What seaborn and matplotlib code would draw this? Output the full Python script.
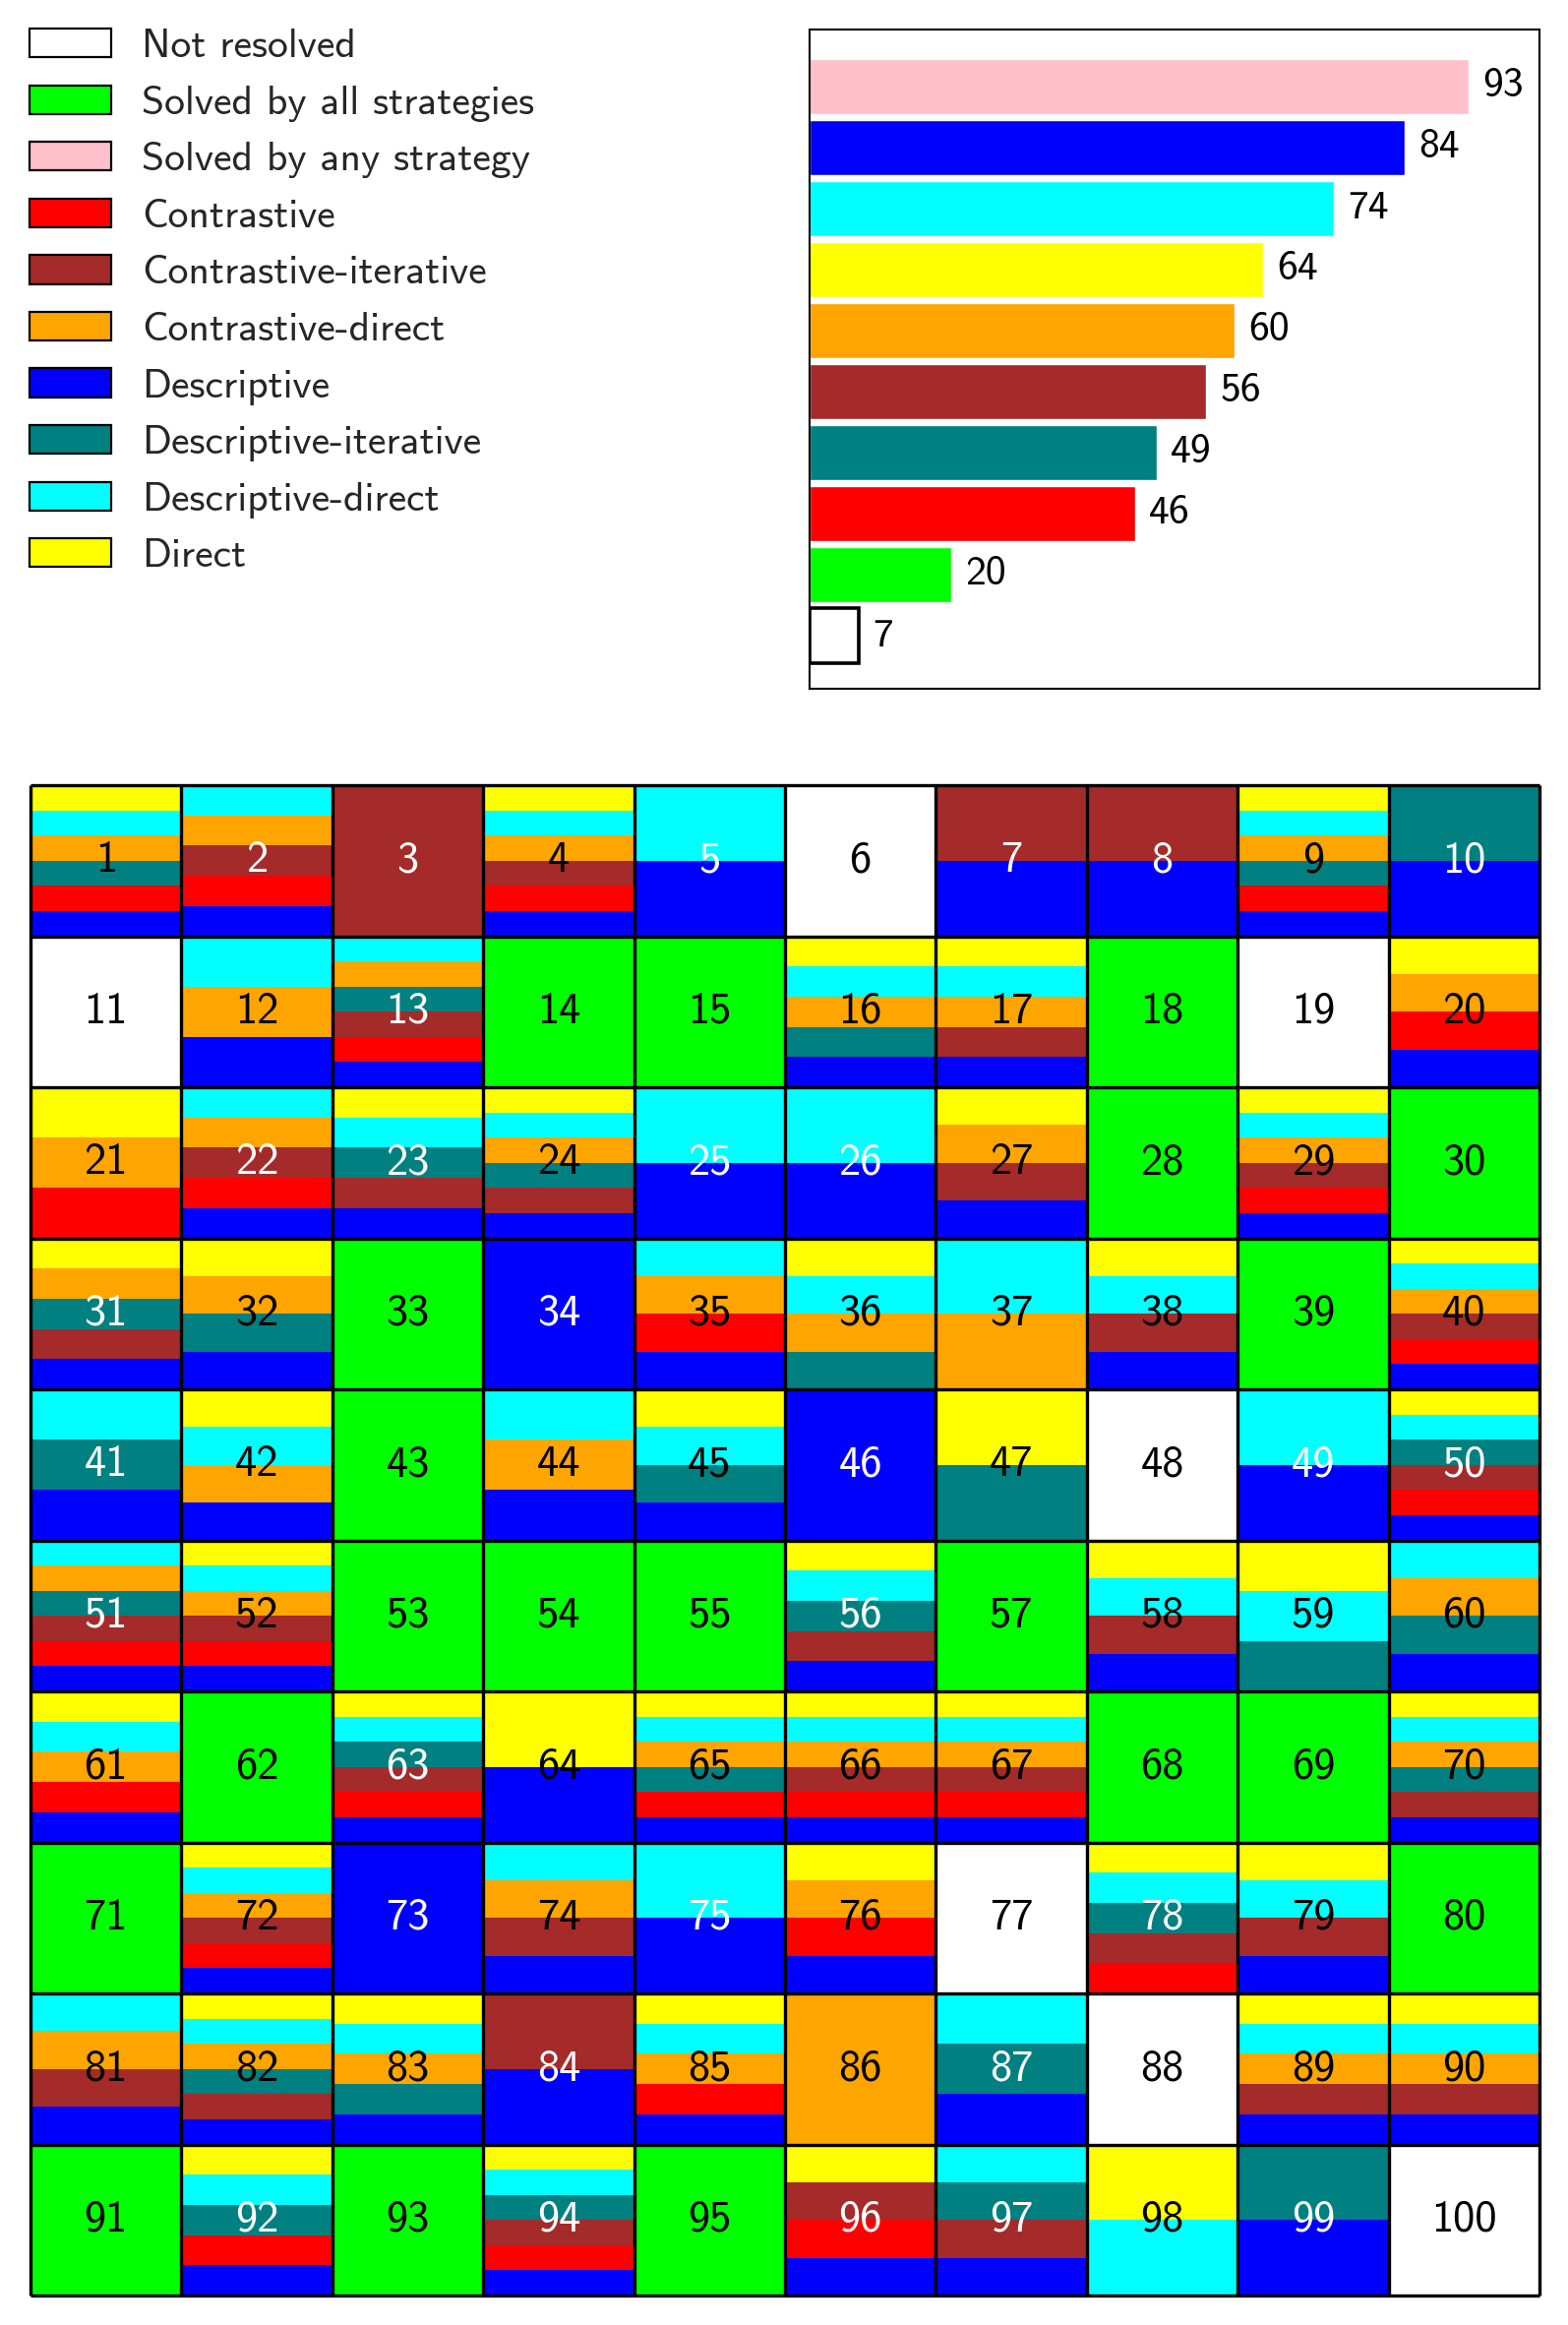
import matplotlib
matplotlib.use("Agg")
import matplotlib.pyplot as plt
import seaborn as sns
from matplotlib.patches import Patch
from matplotlib import colors as mcolors

sns.set_theme(style="white")
plt.rcParams['font.family'] = ['cmss10', 'DejaVu Sans']

# ---------------- data ----------------
legend_labels = ["Not resolved", "Solved by all strategies", "Solved by any strategy",
                 "Contrastive", "Contrastive-iterative", "Contrastive-direct",
                 "Descriptive", "Descriptive-iterative", "Descriptive-direct", "Direct"]
legend_colors = ["white", "lime", "pink", "red", "brown", "orange",
                 "blue", "teal", "cyan", "yellow"]

bar_labels = ["Solved by any strategy", "Descriptive", "Descriptive-direct", "Direct",
              "Contrastive-direct", "Contrastive-iterative", "Descriptive-iterative",
              "Contrastive", "Solved by all strategies", "Not resolved"]
bar_values = [93, 84, 74, 64, 60, 56, 49, 46, 20, 7]

# stacking order inside a cell, bottom -> top
stack_order = ["Descriptive", "Contrastive", "Contrastive-iterative", "Descriptive-iterative",
               "Contrastive-direct", "Descriptive-direct", "Direct"]

solved_by_all = [14, 15, 18, 28, 30, 33, 39, 43, 53, 54, 55, 57, 62, 68, 69, 71, 80, 91, 93, 95]
not_resolved = [6, 11, 19, 48, 77, 88, 100]

# cells solved partially, per strategy
descriptive = [1, 2, 4, 5, 7, 8, 9, 10, 12, 13, 16, 17, 20, 22, 23, 24, 25, 26, 27, 29,
               31, 32, 34, 35, 38, 40, 41, 42, 44, 45, 46, 49, 50, 51, 52, 56, 58, 60,
               61, 63, 64, 65, 66, 67, 70, 72, 73, 74, 75, 76, 79, 81, 82, 83, 84, 85,
               87, 89, 90, 92, 94, 96, 97, 99]
contrastive = [1, 2, 4, 9, 13, 20, 21, 22, 29, 35, 40, 50, 51, 52, 61, 63, 65, 66, 67,
               72, 76, 78, 85, 92, 94, 96]
contrastive_iterative = [2, 3, 4, 7, 8, 13, 17, 22, 23, 24, 27, 29, 31, 38, 40, 50, 51, 52,
                         56, 58, 63, 66, 67, 70, 72, 74, 78, 79, 81, 82, 84, 89, 90, 94, 96, 97]
descriptive_iterative = [1, 9, 10, 13, 16, 23, 24, 31, 32, 36, 41, 45, 47, 50, 51, 56, 59,
                         60, 63, 65, 70, 78, 82, 83, 87, 92, 94, 97, 99]
contrastive_direct = [1, 2, 4, 9, 12, 13, 16, 17, 20, 21, 22, 24, 27, 29, 31, 32, 35, 36,
                      37, 40, 42, 44, 51, 52, 60, 61, 65, 66, 67, 70, 72, 74, 76, 81, 82,
                      83, 85, 86, 89, 90]
descriptive_direct = [1, 2, 4, 5, 9, 12, 13, 16, 17, 22, 23, 24, 25, 26, 29, 35, 36, 37, 38,
                      40, 41, 42, 44, 45, 49, 50, 51, 52, 56, 58, 59, 60, 61, 63, 65, 66,
                      67, 70, 72, 74, 75, 78, 79, 81, 82, 83, 85, 87, 89, 90, 92, 94, 97, 98]
direct = [1, 4, 9, 16, 17, 20, 21, 23, 24, 27, 29, 31, 32, 36, 38, 40, 42, 45, 47, 50, 52,
          56, 58, 59, 61, 63, 64, 65, 66, 67, 70, 72, 76, 78, 79, 82, 83, 85, 89, 90, 92,
          94, 96, 98]

strategy_cells = {
    "Descriptive": descriptive,
    "Contrastive": contrastive,
    "Contrastive-iterative": contrastive_iterative,
    "Descriptive-iterative": descriptive_iterative,
    "Contrastive-direct": contrastive_direct,
    "Descriptive-direct": descriptive_direct,
    "Direct": direct,
}

color_of = dict(zip(legend_labels, legend_colors))
bar_colors = [color_of[l] for l in bar_labels]

# ---------------- figure ----------------
W, H = 1594, 2363
fig = plt.figure(figsize=(W / 100, H / 100), dpi=100)


def fx(px):
    return px / W


def fy(py):
    return 1 - py / H


# legend
handles = [Patch(facecolor=c, edgecolor="black", linewidth=1.6) for c in legend_colors]
fig.legend(handles, legend_labels, loc="upper left",
           bbox_to_anchor=(fx(30), fy(29)), frameon=False, fontsize=30,
           handlelength=2.0, handleheight=0.7, handletextpad=0.74,
           labelspacing=0.49, borderpad=0, borderaxespad=0)

# bar chart
axb = fig.add_axes([fx(823), fy(700), fx(1565 - 823), (700 - 30) / H])
sns.barplot(x=bar_values, y=bar_labels, hue=bar_labels, palette=bar_colors,
            orient="h", ax=axb, width=0.9, saturation=1, legend=False)
for p in axb.patches:
    if mcolors.to_hex(p.get_facecolor()) == "#ffffff":
        p.set_edgecolor("black")
        p.set_linewidth(2.6)
for cont in axb.containers:
    axb.bar_label(cont, padding=10, fontsize=30, color="black")
axb.set_xlim(0, 103)
axb.set_ylim(9.87, -0.93)
axb.set_xticks([])
axb.set_yticks([])
axb.set_xlabel("")
axb.set_ylabel("")
for s in axb.spines.values():
    s.set_visible(True)
    s.set_color("black")
    s.set_linewidth(1.5)

# grid of puzzles
axg = fig.add_axes([fx(31), fy(2333), fx(1565 - 31), (2333 - 798) / H])
axg.set_xlim(0, 10)
axg.set_ylim(10, 0)
axg.axis("off")


def lum(c):
    r, g, b = mcolors.to_rgb(c)
    return 0.299 * r + 0.587 * g + 0.114 * b


xs, bottoms, heights, cols = [], [], [], []
label_info = []
for k in range(1, 101):
    r, c = (k - 1) // 10, (k - 1) % 10
    if k in solved_by_all:
        segs = ["Solved by all strategies"]
    elif k in not_resolved:
        segs = ["Not resolved"]
    else:
        segs = [s for s in stack_order if k in strategy_cells[s]]
    n = len(segs)
    for i, s in enumerate(segs):
        xs.append(c + 0.5)
        bottoms.append(r + 1 - (i + 1) / n)
        heights.append(1 / n)
        cols.append(color_of[s])
    mids = [segs[n // 2]] if n % 2 else [segs[n // 2 - 1], segs[n // 2]]
    L = sum(lum(color_of[m]) for m in mids) / len(mids)
    label_info.append((c + 0.5, r + 0.5, str(k), "white" if L < 0.45 else "black"))

axg.bar(xs, heights, bottom=bottoms, width=1.0, color=cols, linewidth=0, align="center")
axg.vlines(range(11), 0, 10, color="black", linewidth=2.4, clip_on=False)
axg.hlines(range(11), 0, 10, color="black", linewidth=2.4, clip_on=False)
for x, y, t, tc in label_info:
    axg.text(x, y, t, ha="center", va="center", fontsize=32, color=tc)

fig.savefig("out.png", dpi=100)
